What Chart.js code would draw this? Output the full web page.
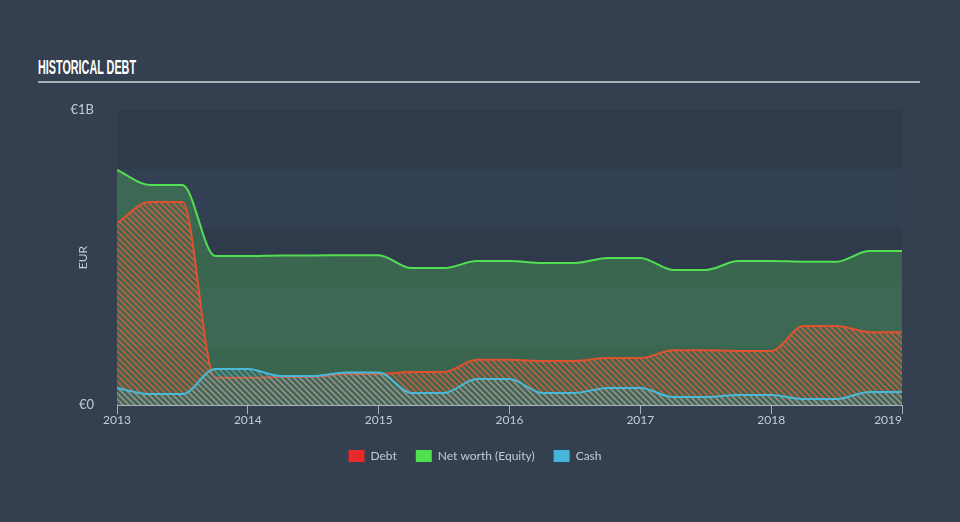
<!DOCTYPE html>
<html><head><meta charset="utf-8">
<script src="https://cdn.jsdelivr.net/npm/chart.js@4"></script>
<style>
html,body{margin:0;padding:0;background:#343f50;width:960px;height:522px;overflow:hidden}
#wrap{position:relative;width:960px;height:522px}
#title{position:absolute;left:38px;top:56px;font-weight:bold;font-size:21px;line-height:21px;font-family:"Liberation Sans Narrow","Liberation Sans",sans-serif;color:#fff;transform-origin:0 0;white-space:nowrap;display:inline-block}
#rule{position:absolute;left:38px;top:81px;width:882px;height:2px;background:#a9b0b8}
#cw{position:absolute;left:0;top:0;width:960px;height:522px}
</style></head><body>
<div id="wrap"><span id="title">HISTORICAL DEBT</span><div id="rule"></div><div id="cw"><canvas id="c" width="960" height="522"></canvas></div></div>
<script>
// ---- data (values in EUR billions) ----
const quarters = [2013, 2013.25, 2013.5, 2013.75, 2014, 2014.25, 2014.5, 2014.75, 2015, 2015.25, 2015.5, 2015.75, 2016, 2016.25, 2016.5, 2016.75, 2017, 2017.25, 2017.5, 2017.75, 2018, 2018.25, 2018.5, 2018.75, 2019];
const debt   = [0.617, 0.688, 0.688, 0.093, 0.092, 0.095, 0.095, 0.105, 0.105, 0.112, 0.112, 0.153, 0.153, 0.149, 0.149, 0.159, 0.159, 0.186, 0.186, 0.183, 0.183, 0.268, 0.268, 0.247, 0.247];
const equity = [0.797, 0.746, 0.746, 0.505, 0.505, 0.507, 0.507, 0.508, 0.508, 0.464, 0.464, 0.488, 0.488, 0.481, 0.481, 0.498, 0.498, 0.458, 0.458, 0.488, 0.488, 0.486, 0.486, 0.522, 0.522];
const cash   = [0.058, 0.037, 0.037, 0.122, 0.122, 0.098, 0.098, 0.110, 0.110, 0.041, 0.041, 0.088, 0.088, 0.041, 0.041, 0.058, 0.058, 0.027, 0.027, 0.034, 0.034, 0.020, 0.020, 0.044, 0.044];
const seriesLabels = ['Debt', 'Net worth (Equity)', 'Cash'];
const xTickValues = [2013, 2014, 2015, 2016, 2017, 2018, 2019];
const xTickLabels = ['2013', '2014', '2015', '2016', '2017', '2018', '2019'];
const yTickValues = [0, 1];
const yTickLabels = ['€0', '€1B'];

// ---- title fit ----
const tEl = document.getElementById('title');
const tw = tEl.getBoundingClientRect().width;
tEl.style.transform = 'scaleX(' + (98 / tw) + ')';

// ---- styles ----
const TXT = '#c5cbd2';
const lineColors = ['#e0522e', '#52e052', '#4ab8d8'];
const legendColors = ['#e82a2a', '#4ee04e', '#48b6da'];

function hatch(stripe, period, lw) {
  const c = document.createElement('canvas');
  c.width = c.height = period;
  const g = c.getContext('2d');
  g.strokeStyle = stripe; g.lineWidth = lw; g.lineCap = 'square';
  g.beginPath();
  g.moveTo(0, 0); g.lineTo(period, period);
  g.moveTo(-period, 0); g.lineTo(period, period * 2);
  g.moveTo(0, -period); g.lineTo(period * 2, period);
  g.stroke();
  return g.createPattern(c, 'repeat');
}
const ctx = document.getElementById('c').getContext('2d');
const debtFill = hatch('rgba(205,95,60,0.8)', 6, 2);
const cashFill = hatch('rgba(100,175,195,0.55)', 6, 2);

const bandPlugin = {
  id: 'bands',
  beforeDraw(chart) {
    const {ctx, chartArea: a, scales: {y}} = chart;
    ctx.save();
    for (let k = 0; k < 5; k++) {
      const t = y.getPixelForValue(1 - 0.2 * k);
      const b = y.getPixelForValue(1 - 0.2 * (k + 1));
      ctx.fillStyle = k % 2 === 0 ? '#2f3b4b' : '#334053';
      ctx.fillRect(a.left, t, a.right - a.left, b - t);
    }
    ctx.restore();
  }
};
const xLabelPlugin = {
  id: 'xlabels',
  afterDraw(chart) {
    const {ctx, chartArea: a, scales: {x}} = chart;
    ctx.save();
    ctx.font = '12px Lato';
    ctx.fillStyle = TXT;
    ctx.textAlign = 'center';
    ctx.textBaseline = 'middle';
    xTickValues.forEach((v, i) => {
      const t = xTickLabels[i];
      const w = ctx.measureText(t).width;
      let px = x.getPixelForValue(v);
      px = Math.min(px, a.right - w / 2);
      ctx.fillText(t, px, x.top + 15);
    });
    ctx.restore();
  }
};
const legendShift = {
  id: 'legendShift',
  afterLayout(chart) {
    if (chart.legend) { chart.legend.left += 24; chart.legend.right += 24; }
  }
};

const pts = arr => quarters.map((q, i) => ({x: q, y: arr[i]}));

new Chart(ctx, {
  type: 'line',
  data: {
    datasets: [
      {label: seriesLabels[0], data: pts(debt), borderColor: lineColors[0], backgroundColor: debtFill, fill: 'origin', order: 2},
      {label: seriesLabels[1], data: pts(equity), borderColor: lineColors[1], backgroundColor: 'rgba(69,145,85,0.5)', fill: 'origin', order: 3},
      {label: seriesLabels[2], data: pts(cash), borderColor: lineColors[2], backgroundColor: cashFill, fill: 'origin', order: 1}
    ]
  },
  options: {
    responsive: false,
    animation: false,
    devicePixelRatio: 1,
    elements: {
      line: {borderWidth: 2, cubicInterpolationMode: 'monotone'},
      point: {radius: 0, hoverRadius: 0}
    },
    layout: {padding: {top: 110, right: 58, left: 0, bottom: 50}},
    scales: {
      x: {
        type: 'linear', min: 2013, max: 2019,
        afterBuildTicks: s => { s.ticks = xTickValues.map(v => ({value: v})); },
        afterFit: s => { s.height = 26; },
        ticks: {display: false},
        grid: {drawOnChartArea: false, drawTicks: true, tickLength: 9, color: '#a9b3bd', lineWidth: 1},
        border: {display: true, color: '#a9b3bd', width: 1}
      },
      y: {
        min: 0, max: 1,
        afterBuildTicks: s => { s.ticks = yTickValues.map(v => ({value: v})); },
        afterFit: s => { s.width = 117; },
        ticks: {callback: (v, i) => yTickLabels[i], color: TXT, font: {family: 'Lato', size: 13}, padding: 15},
        grid: {display: false},
        border: {display: false},
        title: {display: true, text: 'EUR', color: TXT, font: {family: 'Lato', size: 12}, padding: {top: 76, bottom: 0}}
      }
    },
    plugins: {
      tooltip: {enabled: false},
      legend: {
        position: 'bottom',
        labels: {
          boxWidth: 16, boxHeight: 12, padding: 19,
          color: TXT, font: {family: 'Lato', size: 12},
          generateLabels: chart => chart.data.datasets.map((ds, i) => ({
            text: ds.label, fillStyle: legendColors[i], strokeStyle: legendColors[i],
            lineWidth: 0, hidden: false, datasetIndex: i, fontColor: TXT
          }))
        }
      }
    }
  },
  plugins: [bandPlugin, xLabelPlugin, legendShift]
});
</script>
</body></html>
